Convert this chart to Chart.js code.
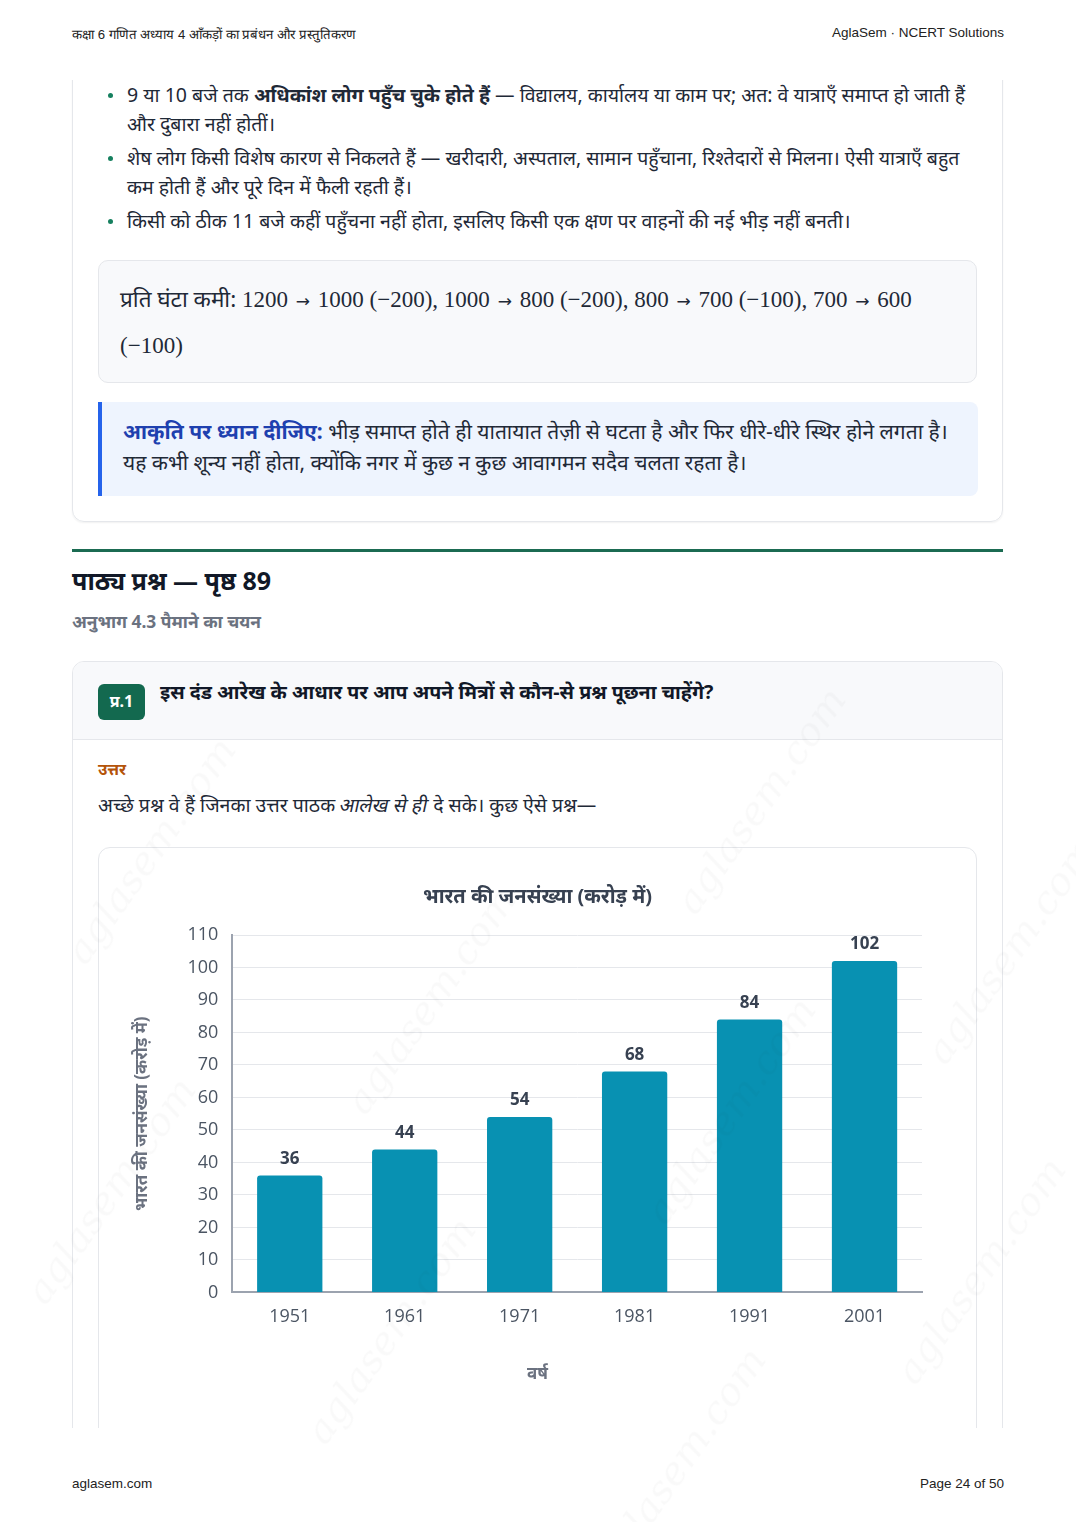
<!DOCTYPE html>
<html lang="hi">
<head>
<meta charset="utf-8">
<title>भारत की जनसंख्या</title>
<script src="https://cdn.jsdelivr.net/npm/chart.js@4"></script>
<style>
  html, body { margin: 0; padding: 0; background: #fff; }
  body { width: 1076px; height: 1522px; position: relative; overflow: hidden;
         font-family: "Noto Sans", "Noto Sans Devanagari", sans-serif; color: #1f2937; }
  .hdr { position: absolute; top: 25px; font: 13.5px "Liberation Sans", Arial, sans-serif; color: #222; }
  .ftr { position: absolute; top: 1476px; font: 13.5px "Liberation Sans", Arial, sans-serif; color: #222; }
  .page { position: absolute; left: 0; top: 80px; width: 1076px; height: 1348px; overflow: hidden; }
  .abs { position: absolute; }
  .card1 { left: 72px; top: -40px; width: 929px; height: 480px; border: 1px solid #e5e7eb;
           border-radius: 12px; box-shadow: 0 1px 2px rgba(0,0,0,0.06); }
  ul.pts { position: absolute; left: 108px; top: 0px; width: 880px; margin: 0; padding: 0; list-style: none;
           font-size: 19.5px; line-height: 29px; white-space: nowrap; }
  ul.pts li { position: relative; padding-left: 19px; margin-bottom: 5px; }
  ul.pts li::before { content: ""; position: absolute; left: 0; top: 13px; width: 5px; height: 5px;
           border-radius: 50%; background: #16805f; }
  .mathbox { left: 98px; top: 180px; width: 877px; height: 121px; background: #f8f9fb;
             border: 1px solid #e5e7eb; border-radius: 10px; }
  .mathbox p { margin: 0; position: absolute; left: 21px; top: 16px; width: 840px; white-space: nowrap;
               font-size: 22.5px; line-height: 44px; }
  .m { font-family: "Liberation Serif", "DejaVu Serif", serif; font-size: 23px; }
  .ar { font-family: "DejaVu Sans", sans-serif; font-size: 17px; margin: 0 2px; }
  .note { left: 98px; top: 322px; width: 876px; height: 94px; background: #eef4fe;
          border-left: 4px solid #2563eb; border-radius: 0 8px 8px 0; }
  .note p { margin: 0; position: absolute; left: 21px; top: 14px; width: 850px; white-space: nowrap;
            font-size: 21px; line-height: 31px; }
  .note b { color: #1e40af; }
  .rule { left: 72px; top: 469px; width: 931px; height: 3px; background: #1b6b52; }
  h2 { position: absolute; left: 72px; top: 483px; margin: 0; font-size: 25px; font-weight: 700; color: #111827; }
  .sub { left: 72px; top: 529px; font-size: 17.4px; font-weight: 700; color: #6b7280; }
  .qcard { left: 72px; top: 581px; width: 929px; height: 800px; border: 1px solid #e5e7eb;
           border-radius: 12px; overflow: hidden; }
  .qhead { position: absolute; left: 0; top: 0; width: 100%; height: 77px; background: #f8f9fb;
           border-bottom: 1px solid #e5e7eb; }
  .badge { position: absolute; left: 25px; top: 22px; width: 47px; height: 36px; background: #13694f;
           color: #fff; border-radius: 6px; font-size: 16px; font-weight: 700; text-align: center; line-height: 34px; }
  .qtext { position: absolute; left: 87px; top: 16px; font-size: 19.6px; font-weight: 700; color: #111827; white-space: nowrap; }
  .ans { left: 98px; top: 678px; font-size: 16px; font-weight: 700; color: #b45309; }
  .para { left: 98px; top: 711px; font-size: 19.5px; color: #1f2937; white-space: nowrap; }
  .para i { display: inline-block; font-style: normal; transform: skewX(-12deg); }
  .chartbox { left: 98px; top: 767px; width: 877px; height: 700px; border: 1px solid #e5e7eb;
              border-radius: 12px; background: #fff; }
  #popChart { position: absolute; left: 99px; top: 780px; }
  .wm { position: absolute; font: italic 40px "DejaVu Serif", serif; color: rgba(0,0,0,0.022);
        transform: translate(-50%, -50%) rotate(-55deg); white-space: nowrap; pointer-events: none; }
</style>
</head>
<body>
<div class="hdr" style="left:72px;font-size:13.2px">कक्षा 6 गणित अध्याय 4 आँकड़ों का प्रबंधन और प्रस्तुतिकरण</div>
<div class="hdr" style="right:72px">AglaSem · NCERT Solutions</div>

<div class="page">
  <div class="abs card1"></div>
  <ul class="pts">
    <li>9 या 10 बजे तक <b>अधिकांश लोग पहुँच चुके होते हैं</b> — विद्यालय, कार्यालय या काम पर; अत: वे यात्राएँ समाप्त हो जाती हैं<br>और दुबारा नहीं होतीं।</li>
    <li>शेष लोग किसी विशेष कारण से निकलते हैं — खरीदारी, अस्पताल, सामान पहुँचाना, रिश्तेदारों से मिलना। ऐसी यात्राएँ बहुत<br>कम होती हैं और पूरे दिन में फैली रहती हैं।</li>
    <li>किसी को ठीक 11 बजे कहीं पहुँचना नहीं होता, इसलिए किसी एक क्षण पर वाहनों की नई भीड़ नहीं बनती।</li>
  </ul>
  <div class="abs mathbox"><p>प्रति घंटा कमी: <span class="m">1200 <span class="ar">→</span> 1000 (−200), 1000 <span class="ar">→</span> 800 (−200), 800 <span class="ar">→</span> 700 (−100), 700 <span class="ar">→</span> 600<br>(−100)</span></p></div>
  <div class="abs note"><p><b>आकृति पर ध्यान दीजिए:</b> भीड़ समाप्त होते ही यातायात तेज़ी से घटता है और फिर धीरे-धीरे स्थिर होने लगता है।<br>यह कभी शून्य नहीं होता, क्योंकि नगर में कुछ न कुछ आवागमन सदैव चलता रहता है।</p></div>

  <div class="abs rule"></div>
  <h2>पाठ्य प्रश्न — पृष्ठ 89</h2>
  <div class="abs sub">अनुभाग 4.3 पैमाने का चयन</div>

  <div class="abs qcard">
    <div class="qhead">
      <div class="badge">प्र.1</div>
      <div class="qtext">इस दंड आरेख के आधार पर आप अपने मित्रों से कौन-से प्रश्न पूछना चाहेंगे?</div>
    </div>
  </div>
  <div class="abs ans">उत्तर</div>
  <div class="abs para">अच्छे प्रश्न वे हैं जिनका उत्तर पाठक <i>आलेख से ही</i> दे सके। कुछ ऐसे प्रश्न—</div>

  <div class="abs chartbox"></div>
  <canvas id="popChart" width="877" height="550" style="width:877px;height:550px"></canvas>
</div>

<div class="ftr" style="left:72px">aglasem.com</div>
<div class="ftr" style="right:72px">Page 24 of 50</div>

<div class="wm" style="left:500px;top:30px">aglasem.com</div>
<div class="wm" style="left:810px;top:125px">aglasem.com</div>
<div class="wm" style="left:470px;top:345px">aglasem.com</div>
<div class="wm" style="left:1060px;top:320px">aglasem.com</div>
<div class="wm" style="left:770px;top:470px">aglasem.com</div>
<div class="wm" style="left:180px;top:510px">aglasem.com</div>
<div class="wm" style="left:450px;top:680px">aglasem.com</div>
<div class="wm" style="left:1045px;top:640px">aglasem.com</div>
<div class="wm" style="left:760px;top:800px">aglasem.com</div>
<div class="wm" style="left:150px;top:850px">aglasem.com</div>
<div class="wm" style="left:430px;top:1000px">aglasem.com</div>
<div class="wm" style="left:1010px;top:950px">aglasem.com</div>
<div class="wm" style="left:730px;top:1110px">aglasem.com</div>
<div class="wm" style="left:110px;top:1190px">aglasem.com</div>
<div class="wm" style="left:390px;top:1330px">aglasem.com</div>
<div class="wm" style="left:980px;top:1270px">aglasem.com</div>
<div class="wm" style="left:680px;top:1460px">aglasem.com</div>

<script>
// dati del grafico
const years = ['1951', '1961', '1971', '1981', '1991', '2001'];
const population = [36, 44, 54, 68, 84, 102];
const yMax = 110;
const yStep = 10;

const chartTitle = 'भारत की जनसंख्या (करोड़ में)';
const yTitle = 'भारत की जनसंख्या (करोड़ में)';
const xTitle = 'वर्ष';

const fontFam = '"Open Sans", "Noto Sans", sans-serif';

// etichette sopra le barre
const valueLabels = {
    id: 'valueLabels',
    afterDatasetsDraw(chart) {
        const ctx = chart.ctx;
        const meta = chart.getDatasetMeta(0);
        ctx.save();
        ctx.font = 'bold 17px ' + fontFam;
        ctx.fillStyle = '#374151';
        ctx.textAlign = 'center';
        ctx.textBaseline = 'bottom';
        meta.data.forEach((bar, i) => {
            ctx.fillText(population[i], bar.x, bar.y - 8);
        });
        ctx.restore();
    }
};

// titolo e titolo asse x centrati sul canvas intero
const centerTitles = {
    id: 'centerTitles',
    afterDraw(chart) {
        const ctx = chart.ctx;
        const cx = chart.width / 2;
        ctx.save();
        ctx.textAlign = 'center';
        ctx.textBaseline = 'middle';
        ctx.font = 'bold 20px ' + fontFam;
        ctx.fillStyle = '#374151';
        ctx.fillText(chartTitle, cx, 37);
        ctx.font = 'bold 17px ' + fontFam;
        ctx.fillStyle = '#6b7280';
        ctx.fillText(xTitle, cx, chart.height - 36);
        ctx.restore();
    }
};

const ctx = document.getElementById('popChart').getContext('2d');
const popChart = new Chart(ctx, {
    type: 'bar',
    data: {
        labels: years,
        datasets: [{
            label: 'जनसंख्या',
            data: population,
            backgroundColor: '#0891b2',
            borderRadius: { topLeft: 3, topRight: 3 },
            borderSkipped: 'bottom',
            categoryPercentage: 0.8,
            barPercentage: 0.71
        }]
    },
    options: {
        responsive: false,
        animation: false,
        devicePixelRatio: 1,
        layout: {
            padding: { top: 75, right: 54, bottom: 68, left: 33 }
        },
        plugins: {
            legend: { display: false },
            tooltip: { enabled: false },
            title: { display: false }
        },
        scales: {
            y: {
                min: 0,
                max: yMax,
                ticks: {
                    stepSize: yStep,
                    color: '#4b5563',
                    padding: 14,
                    font: { family: fontFam, size: 18 }
                },
                grid: { color: '#e5e7eb', drawTicks: false },
                border: { color: '#9ca3af', width: 2 },
                title: {
                    display: true,
                    text: yTitle,
                    color: '#6b7280',
                    font: { family: fontFam, size: 17, weight: 'bold' },
                    padding: { top: 0, bottom: 21 }
                }
            },
            x: {
                ticks: {
                    color: '#4b5563',
                    padding: 14,
                    font: { family: fontFam, size: 18 }
                },
                grid: { display: false, drawTicks: false },
                border: { color: '#9ca3af', width: 2 }
            }
        }
    },
    plugins: [valueLabels, centerTitles]
});
</script>
</body>
</html>
